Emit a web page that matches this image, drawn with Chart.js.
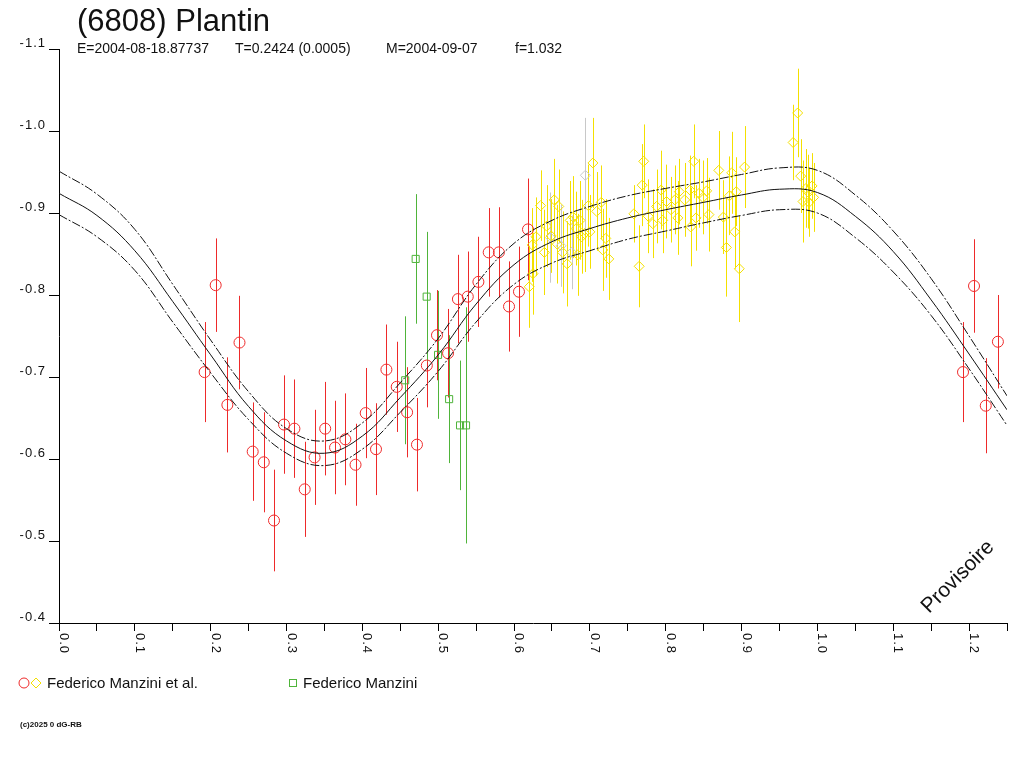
<!DOCTYPE html>
<html>
<head>
<meta charset="utf-8">
<title>(6808) Plantin</title>
<script src="https://cdn.jsdelivr.net/npm/chart.js@4.4.1/dist/chart.umd.min.js"></script>
<style>
  html, body { margin: 0; padding: 0; background: #fff; }
  #wrap { width: 1024px; height: 768px; }
</style>
</head>
<body>
<div id="wrap"><canvas id="chart" width="1024" height="768"></canvas></div>
<script>
// axis ticks
const yTickValues = [-1.1, -1.0, -0.9, -0.8, -0.7, -0.6, -0.5, -0.4];
const yTickLabels = ["-1.1", "-1.0", "-0.9", "-0.8", "-0.7", "-0.6", "-0.5", "-0.4"];
const xTickValues = [0, 0.1, 0.2, 0.3, 0.4, 0.5, 0.6, 0.7, 0.8, 0.9, 1.0, 1.1, 1.2];
const xTickLabels = ["0.0", "0.1", "0.2", "0.3", "0.4", "0.5", "0.6", "0.7", "0.8", "0.9", "1.0", "1.1", "1.2"];

// Federico Manzini et al. (red circles)
const redPhase = [0.192, 0.2066, 0.222, 0.238, 0.2554, 0.270, 0.2835, 0.2967, 0.3104, 0.324,
  0.337, 0.351, 0.364, 0.3776, 0.391, 0.4044, 0.418, 0.4317, 0.4453, 0.459,
  0.472, 0.485, 0.4984, 0.513, 0.526, 0.539, 0.553, 0.5666, 0.580, 0.5934,
  0.6065, 0.6184, 1.192, 1.2065, 1.222, 1.238];
const redMag = [-0.706, -0.812, -0.666, -0.742, -0.609, -0.596, -0.525, -0.642, -0.637, -0.563,
  -0.602, -0.637, -0.614, -0.624, -0.593, -0.656, -0.612, -0.709, -0.688, -0.657,
  -0.6175, -0.714, -0.751, -0.729, -0.795, -0.798, -0.816, -0.852, -0.852, -0.786,
  -0.804, -0.880, -0.706, -0.811, -0.665, -0.743];
const redErr = [0.061, 0.057, 0.058, 0.057, 0.060, 0.061, 0.062, 0.060, 0.060, 0.058,
  0.058, 0.057, 0.057, 0.056, 0.050, 0.055, 0.056, 0.055, 0.055, 0.055,
  0.057, 0.051, 0.055, 0.054, 0.054, 0.055, 0.055, 0.054, 0.055, 0.055,
  0.055, 0.062, 0.061, 0.057, 0.058, 0.057];

// Federico Manzini et al. (yellow diamonds)
const yellowPhase = [0.620, 0.624, 0.625, 0.629, 0.635, 0.640, 0.643, 0.649, 0.653, 0.657,
  0.659, 0.664, 0.670, 0.674, 0.678, 0.682, 0.684, 0.687, 0.689, 0.693,
  0.698, 0.700, 0.704, 0.709, 0.715, 0.717, 0.721, 0.725, 0.758, 0.765,
  0.769, 0.771, 0.777, 0.783, 0.788, 0.794, 0.796, 0.801, 0.807, 0.812,
  0.816, 0.818, 0.825, 0.832, 0.833, 0.837, 0.840, 0.844, 0.849, 0.854,
  0.857, 0.870, 0.876, 0.880, 0.884, 0.887, 0.891, 0.893, 0.897, 0.904,
  0.968, 0.974, 0.978, 0.981, 0.985, 0.987, 0.989, 0.993, 0.995];
const yellowMag = [-0.810, -0.861, -0.826, -0.871, -0.909, -0.852, -0.884, -0.872, -0.916, -0.862,
  -0.908, -0.852, -0.838, -0.891, -0.895, -0.881, -0.849, -0.891, -0.871, -0.875,
  -0.909, -0.877, -0.961, -0.902, -0.913, -0.855, -0.869, -0.844, -0.899, -0.835,
  -0.934, -0.963, -0.896, -0.887, -0.908, -0.928, -0.891, -0.914, -0.904, -0.916,
  -0.894, -0.926, -0.916, -0.928, -0.883, -0.963, -0.894, -0.924, -0.919, -0.927,
  -0.898, -0.952, -0.895, -0.858, -0.921, -0.949, -0.877, -0.926, -0.832, -0.956,
  -0.986, -1.022, -0.945, -0.914, -0.930, -0.926, -0.913, -0.933, -0.919];
const yellowErr = [0.050, 0.045, 0.050, 0.048, 0.043, 0.052, 0.050, 0.045, 0.050, 0.048,
  0.045, 0.050, 0.052, 0.048, 0.050, 0.045, 0.050, 0.048, 0.045, 0.047,
  0.050, 0.045, 0.055, 0.048, 0.045, 0.050, 0.048, 0.050, 0.035, 0.050,
  0.050, 0.045, 0.045, 0.042, 0.045, 0.048, 0.040, 0.045, 0.040, 0.042,
  0.045, 0.040, 0.045, 0.042, 0.048, 0.045, 0.040, 0.042, 0.045, 0.040,
  0.045, 0.048, 0.045, 0.060, 0.048, 0.050, 0.045, 0.042, 0.065, 0.050,
  0.046, 0.054, 0.045, 0.050, 0.048, 0.045, 0.042, 0.040, 0.042];

// low weight points (grey diamonds)
const greyPhase = [0.648, 0.662, 0.676, 0.694];
const greyMag = [-0.870, -0.860, -0.852, -0.946];
const greyErr = [0.055, 0.050, 0.045, 0.070];

// Federico Manzini (green squares)
const greenPhase = [0.4565, 0.4703, 0.4848, 0.4998, 0.5144, 0.5288, 0.5367];
const greenMag = [-0.696, -0.844, -0.798, -0.727, -0.673, -0.641, -0.641];
const greenErr = [0.078, 0.079, 0.079, 0.078, 0.078, 0.079, 0.144];

// fitted light curve and its envelope
const fitPhase = [0, 0.05, 0.10, 0.15, 0.20, 0.25, 0.30, 0.35, 0.40, 0.45, 0.50, 0.55, 0.60,
  0.65, 0.70, 0.75, 0.80, 0.85, 0.90, 0.95, 1.00, 1.05, 1.10, 1.15, 1.20, 1.25];
const fitMid = [-0.924, -0.897, -0.854, -0.792, -0.727, -0.664, -0.622, -0.607, -0.628, -0.675,
  -0.727, -0.789, -0.837, -0.865, -0.881, -0.894, -0.904, -0.913, -0.922, -0.929,
  -0.925, -0.896, -0.853, -0.794, -0.728, -0.660];
const fitUpper = [-0.951, -0.923, -0.880, -0.813, -0.745, -0.682, -0.637, -0.622, -0.644, -0.693,
  -0.747, -0.813, -0.863, -0.891, -0.908, -0.921, -0.930, -0.938, -0.947, -0.955,
  -0.952, -0.922, -0.878, -0.820, -0.750, -0.677];
const fitLower = [-0.898, -0.871, -0.830, -0.767, -0.705, -0.648, -0.607, -0.592, -0.612, -0.657,
  -0.707, -0.767, -0.813, -0.839, -0.854, -0.868, -0.878, -0.888, -0.897, -0.904,
  -0.900, -0.870, -0.828, -0.775, -0.710, -0.641];

const RED = "#ee2a2a", YELLOW = "#f4e000", GREEN = "#4fb43a", GREY = "#c8c8c8";
const FONT = "'Liberation Sans', Arial, sans-serif";

const pts = (xs, ys) => xs.map((x, i) => ({ x: x, y: ys[i] }));

const errorBars = {
    id: "errorBars",
    beforeDatasetsDraw(chart) {
        const ctx = chart.ctx;
        const xs = chart.scales.x, ys = chart.scales.y;
        chart.data.datasets.forEach(ds => {
            if (!ds.errors) return;
            ctx.save();
            ctx.strokeStyle = ds.borderColor;
            ctx.lineWidth = 1;
            ds.data.forEach((p, j) => {
                const px = Math.round(xs.getPixelForValue(p.x)) + 0.5;
                ctx.beginPath();
                ctx.moveTo(px, ys.getPixelForValue(p.y - ds.errors[j]));
                ctx.lineTo(px, ys.getPixelForValue(p.y + ds.errors[j]));
                ctx.stroke();
            });
            ctx.restore();
        });
    }
};

const texts = {
    id: "texts",
    afterDraw(chart) {
        const ctx = chart.ctx, xs = chart.scales.x, ys = chart.scales.y;
        ctx.save();
        ctx.fillStyle = "#111";

        // y tick labels
        ctx.font = "13px " + FONT;
        ctx.letterSpacing = "1px";
        ctx.textAlign = "right";
        ctx.textBaseline = "alphabetic";
        yTickValues.forEach((v, i) => ctx.fillText(yTickLabels[i], 46, ys.getPixelForValue(v) - 2));

        // x tick labels, turned clockwise
        ctx.textAlign = "left";
        xTickValues.forEach((v, i) => {
            ctx.save();
            ctx.translate(xs.getPixelForValue(v) + 1, chart.chartArea.bottom + 10);
            ctx.rotate(Math.PI / 2);
            ctx.fillText(xTickLabels[i], 0, 0);
            ctx.restore();
        });
        ctx.letterSpacing = "0px";

        // title and elements
        ctx.font = "31px " + FONT;
        ctx.fillText("(6808) Plantin", 77, 31);
        ctx.font = "14px " + FONT;
        ctx.fillText("E=2004-08-18.87737", 77, 53);
        ctx.fillText("T=0.2424 (0.0005)", 235, 53);
        ctx.fillText("M=2004-09-07", 386, 53);
        ctx.fillText("f=1.032", 515, 53);

        // legend
        ctx.lineWidth = 1;
        ctx.strokeStyle = RED;
        ctx.beginPath();
        ctx.arc(24, 683, 5, 0, Math.PI * 2);
        ctx.stroke();
        ctx.strokeStyle = YELLOW;
        ctx.beginPath();
        ctx.moveTo(36, 678); ctx.lineTo(41, 683); ctx.lineTo(36, 688); ctx.lineTo(31, 683);
        ctx.closePath();
        ctx.stroke();
        ctx.strokeStyle = GREEN;
        ctx.strokeRect(289.5, 679.5, 7, 7);
        ctx.font = "15px " + FONT;
        ctx.fillText("Federico Manzini et al.", 47, 688);
        ctx.fillText("Federico Manzini", 303, 688);

        // copyright
        ctx.font = "bold 8px " + FONT;
        ctx.fillText("(c)2025 0 dG-RB", 20, 727);

        // watermark
        ctx.save();
        ctx.translate(958, 577);
        ctx.rotate(-Math.PI / 4);
        ctx.font = "21px " + FONT;
        ctx.textAlign = "center";
        ctx.textBaseline = "middle";
        ctx.fillText("Provisoire", 0, 0);
        ctx.restore();

        ctx.restore();
    }
};

const curve = (label, data, dash) => ({
    label: label,
    data: pts(fitPhase, data),
    showLine: true,
    borderColor: "#111",
    borderWidth: 1,
    borderDash: dash,
    pointRadius: 0,
    tension: 0.4,
    fill: false
});

const marks = (label, xs, ys, err, color, style, r) => ({
    label: label,
    data: pts(xs, ys),
    errors: err,
    borderColor: color,
    backgroundColor: "rgba(0,0,0,0)",
    pointStyle: style,
    pointRadius: r,
    pointBorderWidth: 1,
    showLine: false
});

new Chart(document.getElementById("chart").getContext("2d"), {
    type: "scatter",
    data: {
        datasets: [
            curve("fit", fitMid, []),
            curve("fit upper", fitUpper, [9, 2, 2, 2]),
            curve("fit lower", fitLower, [9, 2, 2, 2]),
            marks("Federico Manzini et al.", redPhase, redMag, redErr, RED, "circle", 5.5),
            marks("Federico Manzini", greenPhase, greenMag, greenErr, GREEN, "rect", 5),
            marks("Federico Manzini et al.", yellowPhase, yellowMag, yellowErr, YELLOW, "rectRot", 5),
            marks("low weight", greyPhase, greyMag, greyErr, GREY, "rectRot", 5)
        ]
    },
    options: {
        responsive: false,
        devicePixelRatio: 1,
        animation: false,
        layout: { padding: { left: 49, right: 17, top: 49, bottom: 137 } },
        plugins: {
            legend: { display: false },
            tooltip: { enabled: false },
            title: { display: false }
        },
        scales: {
            x: {
                type: "linear",
                min: 0,
                max: 1.25,
                ticks: { display: false, stepSize: 0.05 },
                grid: { drawOnChartArea: false, drawTicks: true, tickLength: 8, color: "#000" },
                border: { display: true, color: "#000", width: 1 }
            },
            y: {
                type: "linear",
                reverse: true,
                min: -1.1,
                max: -0.4,
                ticks: { display: false, stepSize: 0.1 },
                grid: { drawOnChartArea: false, drawTicks: true, tickLength: 10, color: "#000" },
                border: { display: true, color: "#000", width: 1 }
            }
        }
    },
    plugins: [errorBars, texts]
});
</script>
</body>
</html>
